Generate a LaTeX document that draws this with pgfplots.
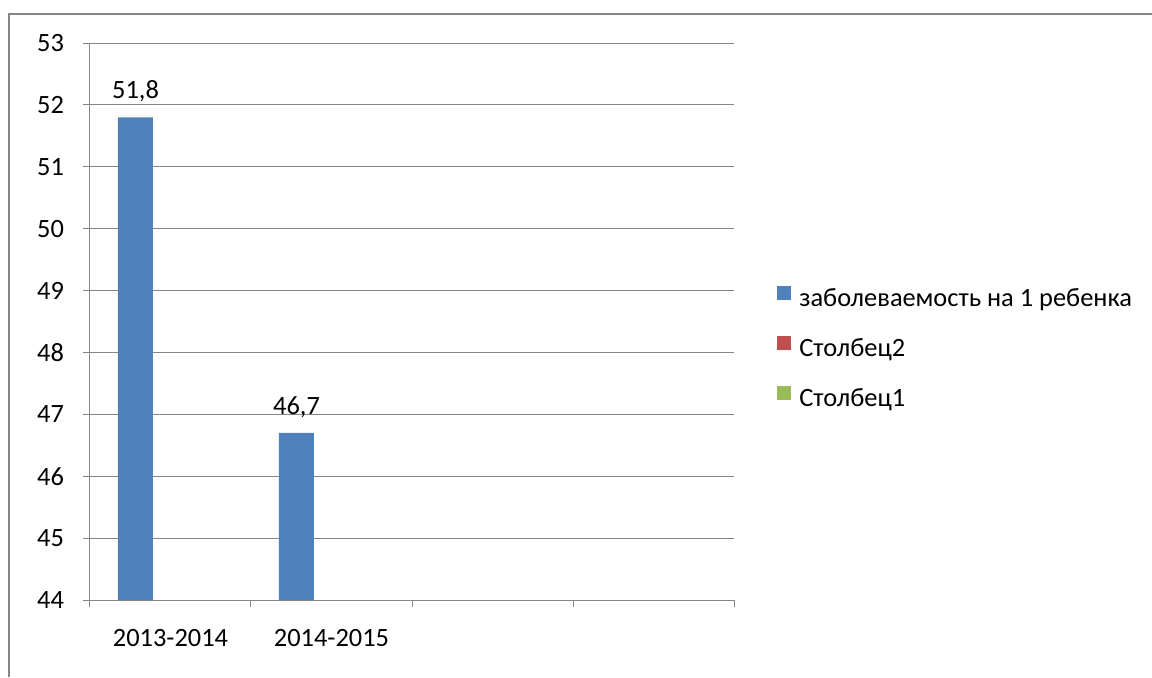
\documentclass[border=0pt]{standalone}
\usepackage{pgfplots}
\pgfplotsset{compat=1.18}
\usepackage{fontspec}
\setmainfont{Carlito}
\definecolor{sblue}{HTML}{4F81BD}
\definecolor{sred}{HTML}{C0504D}
\definecolor{sgreen}{HTML}{9BBB59}
\definecolor{axgray}{HTML}{868686}
\pgfplotsset{sq/.style={legend image code/.code={\fill[##1] (0pt,-0.5pt) rectangle (7pt,6.5pt);}}}
\begin{document}
\begin{tikzpicture}
\useasboundingbox (0,0) rectangle (576pt,338.5pt);
\draw[color=axgray, line width=1pt] (4.5pt,0) -- (4.5pt,331.5pt) -- (576pt,331.5pt);
\begin{axis}[
  at={(45pt,38.5pt)}, anchor=south west, scale only axis,
  width=322pt, height=278.5pt,
  xmin=-0.5, xmax=3.5, ymin=44, ymax=53, ytick distance=1,
  xtick={-0.5,0.5,1.5,2.5,3.5}, xticklabels={},
  extra x ticks={0,1}, extra x tick labels={2013-2014,2014-2015},
  extra x tick style={major tick length=0pt, xticklabel style={yshift=-11pt}},
  axis x line=bottom, axis y line=left,
  axis line style={draw=axgray, line width=0.5pt, -},
  tick style={draw=axgray, line width=0.5pt},
  tick align=outside, major tick length=3.5pt,
  ymajorgrids, grid style={draw=axgray, line width=0.5pt},
  /pgf/number format/assume math mode=true,
  tick label style={font=\fontsize{13.2}{15.5}\selectfont},
  yticklabel style={xshift=-6pt},
  ybar, bar width=17.5pt, bar shift=-17.5pt,
  nodes near coords,
  every node near coord/.append style={font=\fontsize{13.2}{15.5}\selectfont, yshift=4pt,
    /pgf/number format/.cd, use comma, fixed, fixed zerofill, precision=1, assume math mode=true},
  legend style={at={(1.0668,0.4506)}, anchor=west, draw=none, fill=none,
    font=\fontsize{13.2}{15.5}\selectfont, row sep=10.5pt, inner sep=0pt,
    nodes={inner xsep=4pt}},
  legend cell align=left,
]
\addplot[fill=sblue, draw=none, sq] coordinates {(0,51.8) (1,46.7)};
\addlegendentry{заболеваемость на 1 ребенка}
\addlegendimage{sq, fill=sred, draw=none}
\addlegendentry{Столбец2}
\addlegendimage{sq, fill=sgreen, draw=none}
\addlegendentry{Столбец1}
\end{axis}
\end{tikzpicture}
\end{document}
